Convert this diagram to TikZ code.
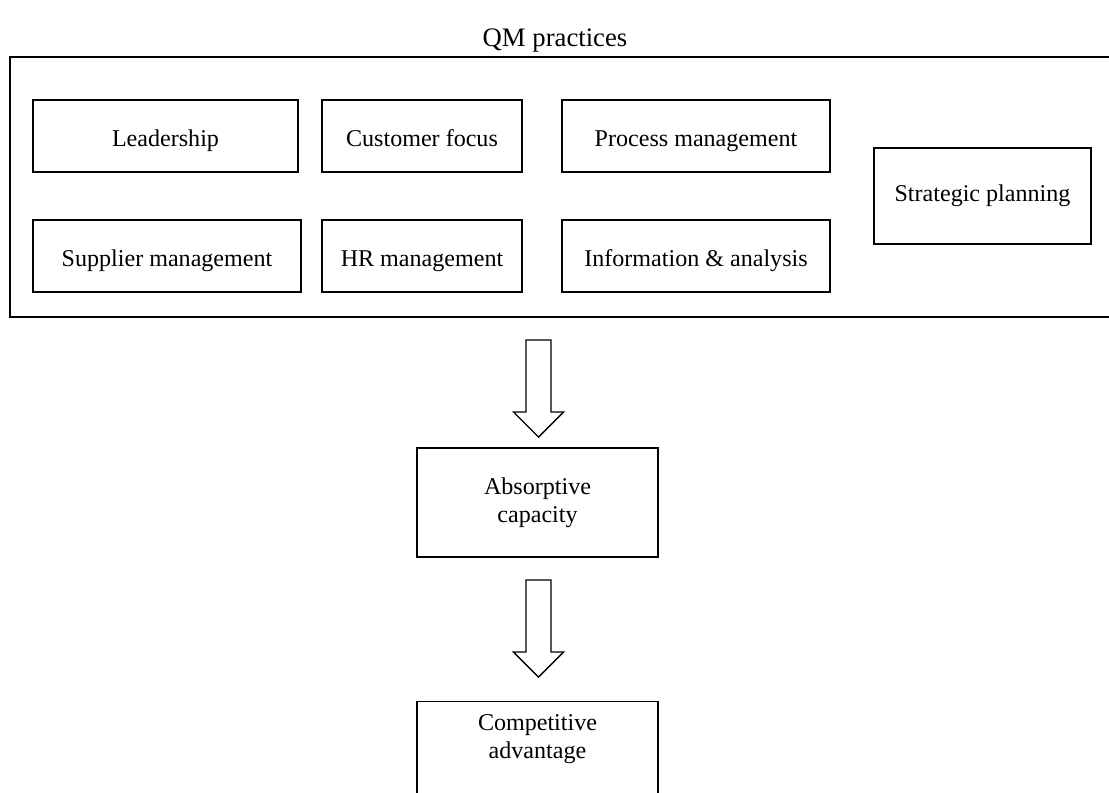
\documentclass[tikz,border=0pt]{standalone}
\usepackage{fontspec}
\setmainfont{Liberation Serif}
\usepackage{tikz}
\usetikzlibrary{arrows.meta}
\tikzset{qmbox/.style = {draw, line width=0.8pt, inner sep=0pt, font=\fontsize{13.7}{16}\selectfont}}
\tikzset{rowbox/.style = {qmbox, minimum height=1.44cm, text height=1.4em, text depth=0.25em}}
\tikzset{outbox/.style = {qmbox, minimum width=4.82cm, minimum height=2.18cm, align=center}}
\tikzset{fatarrow/.style = {draw, line width=0.8pt, fill=white}}
% block arrow: x of the centre, y of the top, y of the shoulders, y of the tip
\newcommand{\blockarrow}[4]{%
  \draw[fatarrow] (#1-12.5,#2) -- (#1+12.5,#2) -- (#1+12.5,#3) -- (#1+25,#3)
    -- (#1,#4) -- (#1-25,#3) -- (#1-12.5,#3) -- cycle;}

\begin{document}
\begin{tikzpicture}[x=0.02cm, y=-0.02cm]
    \clip (0,0) rectangle (1109,792);

    \node[font=\fontsize{15.2}{18}\selectfont] (title) at (555,40) {QM practices};
    \coordinate (fr-tl) at (10,57);
    \coordinate (fr-bl) at (10,317);
    \draw[line width=0.8pt] (1109,57) -- (fr-tl) -- (fr-bl) -- (1109,317);

    \node[rowbox, minimum width=5.30cm] (lead) at (165.5,136) {Leadership};
    \node[rowbox, minimum width=4.00cm] (cust) at (422,136) {Customer focus};
    \node[rowbox, minimum width=5.36cm] (proc) at (696,136) {Process management};

    \node[rowbox, minimum width=5.36cm] (supp) at (167,256) {Supplier management};
    \node[rowbox, minimum width=4.00cm] (hr) at (422,256) {HR management};
    \node[rowbox, minimum width=5.36cm] (info) at (696,256) {Information \& analysis};

    \node[qmbox, minimum width=4.34cm, minimum height=1.92cm] (strat) at (982.5,196) {Strategic planning};

    \node[outbox] (absorb) at (537.5,502.5) {Absorptive\\capacity};
    \node[outbox, anchor=north] (comp) at (537.5,701) {};
    \node[font=\fontsize{13.7}{16}\selectfont, align=center] (comptext) at (537.5,739) {Competitive\\advantage};

    \blockarrow{538.5}{340}{412}{437}
    \blockarrow{538.5}{580}{652}{677}

\end{tikzpicture}
\end{document}
